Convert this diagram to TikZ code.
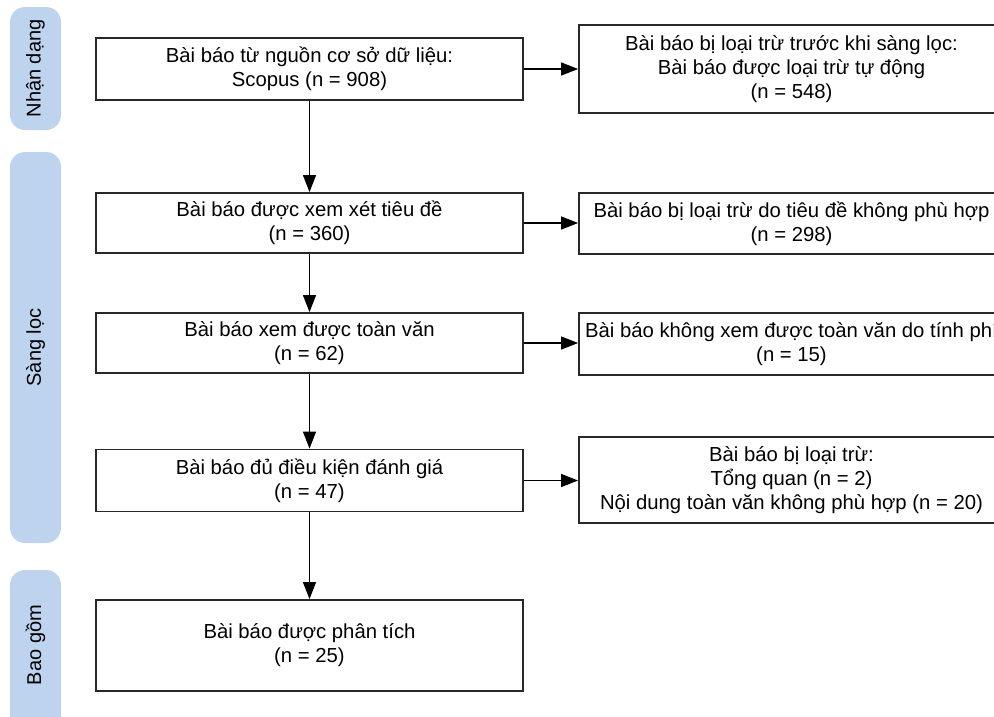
\documentclass[tikz,border=0pt]{standalone}
\usepackage{fontspec}
\setmainfont{Liberation Sans}
\usetikzlibrary{arrows.meta}
\definecolor{sidefill}{RGB}{190,212,238}
\definecolor{edge}{RGB}{40,40,40}
\tikzset{
  box/.style={draw=edge, line width=1.8pt, fill=white, align=center, inner sep=0pt,
    font=\fontsize{20.3}{24}\selectfont},
  sidebox/.style={fill=sidefill, rounded corners=15pt, inner sep=0pt, minimum width=51pt},
  sidetext/.style={rotate=90, font=\fontsize{20}{24}\selectfont, inner sep=0pt},
  flow/.style={draw=black, line width=1.2pt, -{Triangle[length=17pt,width=13pt]}}
}
\begin{document}
\begin{tikzpicture}[x=1pt,y=-1pt]
\useasboundingbox (0,0) rectangle (994,716);
\clip (0,0) rectangle (994,716);
% side bars
\node[sidebox, minimum height=123pt] (s1) at (35.5,68.5) {};
\node[sidetext] (t1) at (s1.center) {Nhận dạng};
\node[sidebox, minimum height=391pt] (s2) at (35.5,347.5) {};
\node[sidetext] (t2) at (s2.center) {Sàng lọc};
\node[sidebox, minimum height=170pt] (s3) at (35.5,655) {};
\node[sidetext] (t3) at (35.5,645) {Bao gồm};
% main column
\node[box, minimum width=427pt, minimum height=62pt] (b1) at (309.5,69) {Bài báo từ nguồn cơ sở dữ liệu:\\Scopus (n = 908)};
\node[box, minimum width=427pt, minimum height=60pt] (b2) at (309.5,223) {Bài báo được xem xét tiêu đề\\(n = 360)};
\node[box, minimum width=427pt, minimum height=60pt] (b3) at (309.5,343) {Bài báo xem được toàn văn\\(n = 62)};
\node[box, minimum width=427pt, minimum height=62pt] (b4) at (309.5,480.5) {Bài báo đủ điều kiện đánh giá\\(n = 47)};
\node[box, minimum width=427pt, minimum height=91pt] (b5) at (309.5,645.5) {Bài báo được phân tích\\(n = 25)};
% right column
\node[box, minimum width=425pt, minimum height=88pt] (r1) at (791.5,69) {Bài báo bị loại trừ trước khi sàng lọc:\\Bài báo được loại trừ tự động\\(n = 548)};
\node[box, minimum width=425pt, minimum height=61pt] (r2) at (791.5,223.5) {Bài báo bị loại trừ do tiêu đề không phù hợp\\(n = 298)};
\node[box, minimum width=425pt, minimum height=62pt] (r3) at (791.5,344) {Bài báo không xem được toàn văn do tính phí\\(n = 15)};
\node[box, minimum width=425pt, minimum height=86pt] (r4) at (791.5,480) {Bài báo bị loại trừ:\\Tổng quan (n = 2)\\Nội dung toàn văn không phù hợp (n = 20)};
% vertical arrows
\draw[flow] (b1.south) -- (b2.north);
\draw[flow] (b2.south) -- (b3.north);
\draw[flow] (b3.south) -- (b4.north);
\draw[flow] (b4.south) -- (b5.north);
% horizontal arrows
\draw[flow] (b1.east) -- (b1.east -| r1.west);
\draw[flow] (b2.east) -- (b2.east -| r2.west);
\draw[flow] (b3.east) -- (b3.east -| r3.west);
\draw[flow] (b4.east) -- (b4.east -| r4.west);
\end{tikzpicture}
\end{document}
